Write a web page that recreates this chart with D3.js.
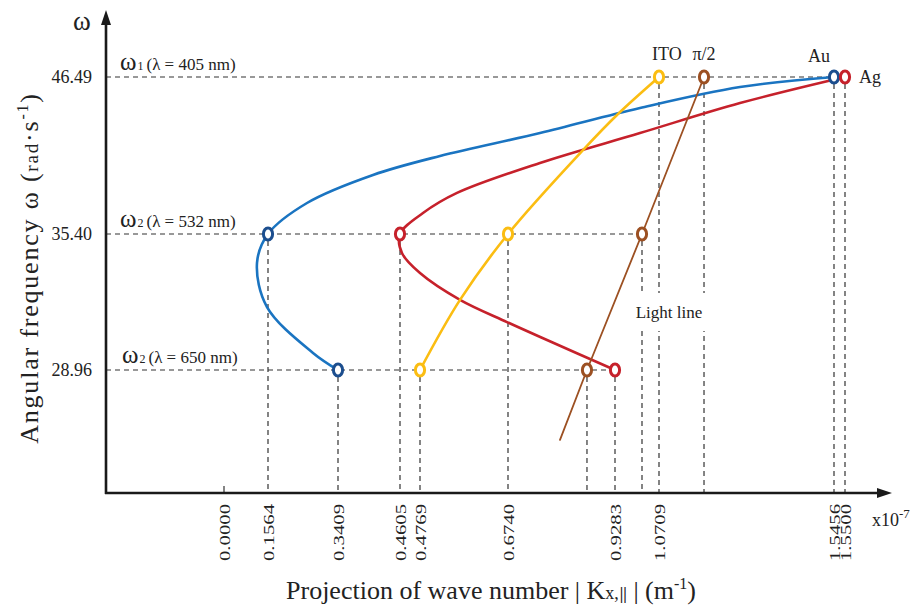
<!DOCTYPE html>
<html>
<head>
<meta charset="utf-8">
<script src="https://cdn.jsdelivr.net/npm/d3@7"></script>
<style>
body { margin: 0; background: #fff; }
svg { display: block; }
text { font-family: "Liberation Serif", serif; fill: #222; }
</style>
</head>
<body>
<svg width="917" height="609"></svg>
<script>
// tick values
var kTicks = [0.0000, 0.1564, 0.3409, 0.4605, 0.4769, 0.6740, 0.9283, 1.0709, 1.5456, 1.5500]
var wTicks = [28.96, 35.40, 46.49]

// dispersion curves, [k, w] pairs
var auCurve = [[1.5456, 46.49], [1.2906, 45.78], [1.0093, 44.30], [0.7500, 42.53], [0.5217, 40.91],
    [0.4084, 39.57], [0.2592, 37.59], [0.1564, 35.40], [0.1173, 34.03], [0.1529, 31.94],
    [0.2750, 29.77], [0.3409, 28.96]]
var agCurve = [[1.5500, 46.49], [1.2906, 44.65], [1.0093, 42.53], [0.7500, 40.42], [0.5598, 38.30],
    [0.4836, 36.88], [0.4605, 35.40], [0.4621, 34.50], [0.4769, 33.55], [0.5665, 32.28],
    [0.6717, 31.23], [0.7667, 30.38], [0.9283, 28.96]]
var itoCurve = [[0.4769, 28.96], [0.5665, 32.28], [0.6740, 35.40], [0.8522, 41.33], [0.9348, 43.81],
    [1.0709, 46.49]]
var lightCurve = [[0.7976, 25.65], [0.8617, 28.96], [1.0158, 35.40], [1.1930, 46.49]]

// marked points on each curve
var auPts = [[1.5456, 46.49], [0.1564, 35.40], [0.3409, 28.96]]
var agPts = [[1.5500, 46.49], [0.4605, 35.40], [0.9283, 28.96]]
var itoPts = [[1.0709, 46.49], [0.6740, 35.40], [0.4769, 28.96]]
var lightPts = [[1.1930, 46.49], [1.0158, 35.40], [0.8617, 28.96]]

var seriesNames = ['Au', 'Ag', 'ITO', 'π/2']
var levelLabels = [['1', '405'], ['2', '532'], ['2', '650']]

var svg = d3.select('svg')

// schematic (non-linear) axes: each tick sits at its own place
var x = d3.scaleLinear()
    .domain(kTicks)
    .range([224, 268, 338, 400, 420, 508, 615, 659, 834, 845])
var y = d3.scaleLinear()
    .domain(wTicks)
    .range([370, 234, 77])

var x0 = 106, y0 = 493

var series = [
    {name: seriesNames[0], curve: auCurve, pts: auPts, line: '#1a74c1', ring: '#1c4e8e', w: 2.6, smooth: true},
    {name: seriesNames[1], curve: agCurve, pts: agPts, line: '#c6212b', ring: '#c6212b', w: 2.6, smooth: true},
    {name: seriesNames[2], curve: itoCurve, pts: itoPts, line: '#fbbd12', ring: '#fbbd12', w: 2.6, smooth: true},
    {name: seriesNames[3], curve: lightCurve, pts: lightPts, line: '#9c5022', ring: '#9c5022', w: 1.8, smooth: false}
]

// dashed guide lines
var guides = svg.append('g')
    .attr('stroke', '#333')
    .attr('stroke-width', 1.2)
    .attr('stroke-dasharray', '5,4')

var allPts = auPts.concat(agPts, itoPts, lightPts)
guides.selectAll('.v')
    .data(allPts)
    .enter()
    .append('line')
    .attr('x1', d => x(d[0]))
    .attr('x2', d => x(d[0]))
    .attr('y1', d => y(d[1]) + 7)
    .attr('y2', y0)

guides.selectAll('.h')
    .data(wTicks)
    .enter()
    .append('line')
    .attr('x1', x0)
    .attr('x2', function(w) {
        return x(d3.max(allPts.filter(p => p[1] == w), p => p[0]))
    })
    .attr('y1', d => y(d))
    .attr('y2', d => y(d))

// short tick at zero
svg.append('line')
    .attr('x1', x(0)).attr('x2', x(0))
    .attr('y1', y0 - 7).attr('y2', y0)
    .attr('stroke', '#333').attr('stroke-width', 1.2)

// "Light line" label with a white gap behind it
svg.append('rect')
    .attr('x', 630).attr('y', 293).attr('width', 78).attr('height', 38)
    .attr('fill', '#fff')
svg.append('text')
    .attr('x', 669).attr('y', 318)
    .attr('text-anchor', 'middle')
    .style('font-size', '17px')
    .text('Light line')

// curves
var smooth = d3.line()
    .x(d => x(d[0]))
    .y(d => y(d[1]))
    .curve(d3.curveCatmullRom.alpha(0.5))
var straight = d3.line()
    .x(d => x(d[0]))
    .y(d => y(d[1]))

series.forEach(function(s) {
    svg.append('path')
        .datum(s.curve)
        .attr('d', s.smooth ? smooth : straight)
        .attr('fill', 'none')
        .attr('stroke', s.line)
        .attr('stroke-width', s.w)
        .attr('stroke-linecap', 'round')
})

// circles on the marked points
series.forEach(function(s) {
    svg.append('g').selectAll('ellipse')
        .data(s.pts)
        .enter()
        .append('ellipse')
        .attr('cx', d => x(d[0]))
        .attr('cy', d => y(d[1]))
        .attr('rx', 4.6)
        .attr('ry', 6)
        .attr('fill', '#fff')
        .attr('stroke', s.ring)
        .attr('stroke-width', 3)
})

// series names
svg.append('text').attr('x', x(itoPts[0][0]) - 7).attr('y', 60)
    .style('font-size', '18px').text(seriesNames[2])
svg.append('text').attr('x', x(lightPts[0][0])).attr('y', 60)
    .attr('text-anchor', 'middle').style('font-size', '18px').text(seriesNames[3])
svg.append('text').attr('x', x(auPts[0][0]) - 4).attr('y', 62)
    .attr('text-anchor', 'end').style('font-size', '18px').text(seriesNames[0])
svg.append('text').attr('x', x(agPts[0][0]) + 14).attr('y', 83)
    .style('font-size', '18px').text(seriesNames[1])

// level labels  w1 (λ = 405 nm) etc
var lab = svg.append('g').selectAll('text')
    .data(wTicks.slice().reverse())
    .enter()
    .append('text')
    .attr('x', (d, i) => i == 2 ? 122 : 120)
    .attr('y', d => y(d) - 7)
    .style('font-size', '17px')
lab.append('tspan').style('font-size', '25px').text('ω')
lab.append('tspan').style('font-size', '12px').attr('dx', 1).text((d, i) => levelLabels[i][0])
lab.append('tspan').attr('dx', 3).text((d, i) => '(λ = ' + levelLabels[i][1] + ' nm)')

// axes frame
svg.append('line')
    .attr('x1', x0).attr('x2', x0).attr('y1', y0 + 1).attr('y2', 20)
    .attr('stroke', '#1a1a1a').attr('stroke-width', 2.6)
svg.append('line')
    .attr('x1', x0 - 1).attr('x2', 880).attr('y1', y0).attr('y2', y0)
    .attr('stroke', '#1a1a1a').attr('stroke-width', 2.6)
svg.append('path')
    .attr('d', 'M' + x0 + ',10L' + (x0 - 5) + ',25L' + (x0 + 5) + ',25Z')
    .attr('fill', '#1a1a1a')
svg.append('path')
    .attr('d', 'M892,' + y0 + 'L877,' + (y0 - 5) + 'L877,' + (y0 + 5) + 'Z')
    .attr('fill', '#1a1a1a')

// tick labels
var xAxis = svg.append('g')
    .attr('transform', 'translate(0,' + y0 + ')')
    .call(d3.axisBottom(x).tickValues(kTicks).tickSize(0).tickFormat(d3.format('.4f')))
xAxis.select('.domain').remove()
xAxis.selectAll('text')
    .attr('transform', 'rotate(-90)')
    .attr('x', -11)
    .attr('y', 0)
    .attr('dy', '0.35em')
    .attr('text-anchor', 'end')
    .attr('textLength', 57)
    .attr('lengthAdjust', 'spacingAndGlyphs')
    .style('font-family', '"Liberation Serif", serif')
    .style('font-size', '14.5px')
    .style('fill', '#222')

var yAxis = svg.append('g')
    .attr('transform', 'translate(' + x0 + ',0)')
    .call(d3.axisLeft(y).tickValues(wTicks).tickSize(0).tickFormat(d3.format('.2f')))
yAxis.select('.domain').remove()
yAxis.selectAll('text')
    .attr('x', -14)
    .style('font-family', '"Liberation Serif", serif')
    .style('font-size', '18px')
    .style('fill', '#222')

// axis titles
svg.append('text')
    .attr('x', 82).attr('y', 30)
    .attr('text-anchor', 'middle')
    .style('font-size', '27px')
    .text('ω')

var yt = svg.append('text')
    .attr('transform', 'translate(38,268)rotate(-90)')
    .attr('text-anchor', 'middle')
    .style('font-size', '26px')
    .style('letter-spacing', '1.8px')
yt.append('tspan').text('Angular frequency ω (')
yt.append('tspan').style('font-size', '19px').text('rad')
yt.append('tspan').text('·s')
yt.append('tspan').style('font-size', '16px').attr('dy', -10).text('-1')
yt.append('tspan').attr('dy', 10).text(')')

var xt = svg.append('text')
    .attr('x', 491).attr('y', 599)
    .attr('text-anchor', 'middle')
    .style('font-size', '26px')
xt.append('tspan').text('Projection of wave number | K')
xt.append('tspan').style('font-size', '18px').text('x,')
xt.append('tspan').style('font-size', '16px').style('font-weight', 'bold').attr('dx', 1).text('||')
xt.append('tspan').text(' | (m')
xt.append('tspan').style('font-size', '16px').attr('dy', -10).text('-1')
xt.append('tspan').attr('dy', 10).text(')')

var unit = svg.append('text')
    .attr('x', 872).attr('y', 526)
    .style('font-size', '18px')
unit.append('tspan').text('x10')
unit.append('tspan').style('font-size', '13px').attr('dy', -8).text('-7')
</script>
</body>
</html>
